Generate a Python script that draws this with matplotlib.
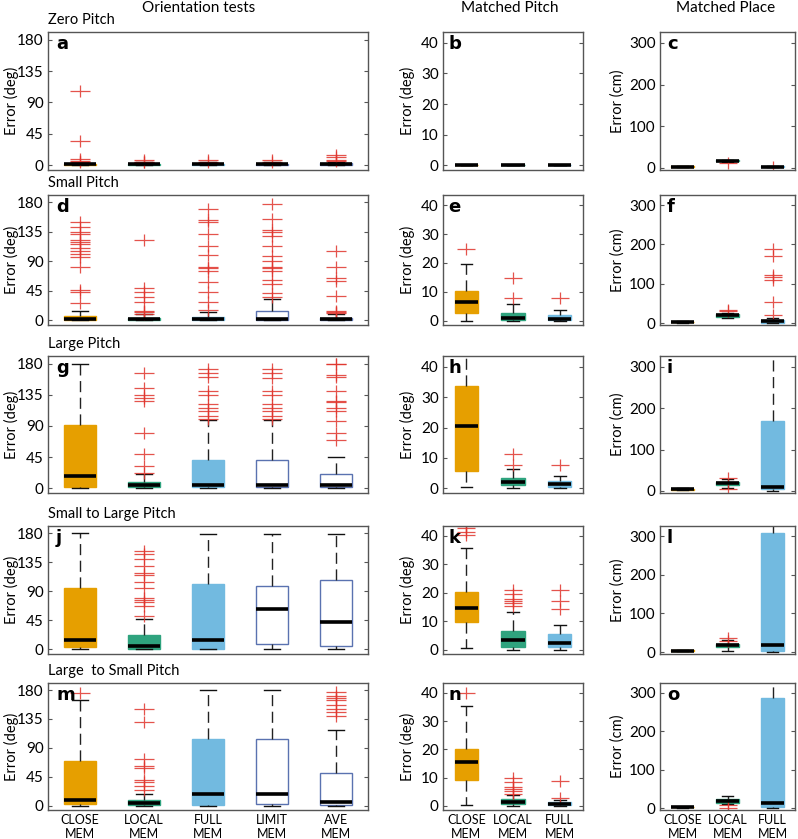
import matplotlib
matplotlib.use('Agg')
import matplotlib.pyplot as plt
from matplotlib.path import Path

plt.rcParams['font.family'] = ['Lato', 'DejaVu Sans']

# ---------------- data ----------------
ORIENT_CATS = ['CLOSE\nMEM', 'LOCAL\nMEM', 'FULL\nMEM', 'LIMIT\nMEM', 'AVE\nMEM']
MATCH_CATS = ['CLOSE\nMEM', 'LOCAL\nMEM', 'FULL\nMEM']
ROW_TITLES = ['Zero Pitch', 'Small Pitch', 'Large Pitch', 'Small to Large Pitch', 'Large  to Small Pitch']
COL_TITLES = ['Orientation tests', 'Matched Pitch', 'Matched Place']

DEG_TICKS = [0, 45, 90, 135, 180]
PITCH_TICKS = [0, 10, 20, 30, 40]
PLACE_TICKS = [0, 100, 200, 300]

# Panel a - Zero Pitch, orientation
A_MED = [1, 1, 1, 1, 2]
A_Q1 = [0, 0, 0, 0, 0.5]
A_Q3 = [2, 2, 2, 2, 3]
A_LO = [0, 0, 0, 0, 0]
A_HI = [4, 4, 4, 4, 5]
A_OUT = [[107, 35, 9, 6, 4.5], [8, 5, 4], [7, 5], [7, 5], [15, 11, 7, 5.5]]

# Panel d - Small Pitch, orientation
D_MED = [2, 1.5, 2, 2, 1.5]
D_Q1 = [0, 0, 0, 0.5, 0]
D_Q3 = [6, 4, 5, 15, 4]
D_LO = [0, 0, 0, 0, 0]
D_HI = [14, 9, 13, 32, 9]
D_OUT = [[150, 142, 135, 131, 123, 119, 116, 111, 105, 101, 96, 82, 46, 44, 27],
         [123, 50, 44, 36, 28, 15, 13, 10],
         [170, 153, 150, 131, 113, 99, 82, 80, 75, 59, 44, 28, 16],
         [178, 154, 137, 135, 129, 113, 98, 91, 82, 80, 75, 62, 55, 41, 35],
         [105, 81, 64, 60, 37, 15, 13, 11]]

# Panel g - Large Pitch, orientation
G_MED = [17, 4, 5, 5, 5]
G_Q1 = [1, 1, 1, 1, 1]
G_Q3 = [91, 8.5, 40, 40, 21]
G_LO = [0, 0, 0, 0, 0]
G_HI = [180, 20, 98, 98, 45]
G_OUT = [[],
         [166, 145, 135, 130, 126, 80, 50, 32, 22],
         [172, 166, 160, 140, 135, 121, 116, 111, 104, 100],
         [172, 166, 159, 140, 134, 121, 116, 111, 104, 100],
         [180, 179, 164, 160, 140, 126, 124, 116, 111, 97, 80, 70]]

# Panel j - Small to Large Pitch, orientation
J_MED = [15, 5, 14, 62, 42]
J_Q1 = [4, 1, 1, 9, 5]
J_Q3 = [95, 22, 102, 98, 108]
J_LO = [0, 0, 0, 0, 0]
J_HI = [180, 47, 178, 178, 179]
J_OUT = [[], [152, 147, 140, 129, 118, 115, 105, 95, 80, 76, 73, 68, 52], [], [], []]

# Panel m - Large to Small Pitch, orientation
M_MED = [8, 4, 18, 18, 5]
M_Q1 = [2, 1, 1, 2, 1.5]
M_Q3 = [69, 8, 103, 103, 51]
M_LO = [0, 0, 0, 0, 0]
M_HI = [164, 18, 180, 180, 117]
M_OUT = [[176], [150, 130, 72, 62, 58, 40, 36, 31, 24], [], [],
         [177, 170, 167, 164, 156, 151, 146, 140]]

# Panel b - Zero Pitch, matched pitch
B_MED = [0, 0, 0]
B_Q1 = [0, 0, 0]
B_Q3 = [0, 0, 0]
B_LO = [0, 0, 0]
B_HI = [0, 0, 0]
B_OUT = [[], [], []]

# Panel e - Small Pitch, matched pitch
E_MED = [6.5, 0.9, 0.5]
E_Q1 = [2.7, 0.2, 0.1]
E_Q3 = [10.3, 2.8, 1.9]
E_LO = [0, 0, 0]
E_HI = [19.6, 5.8, 3.8]
E_OUT = [[24.8], [14.6, 7.9], [7.9]]

# Panel h - Large Pitch, matched pitch
H_MED = [20.6, 2.1, 1.4]
H_Q1 = [5.8, 1, 0.6]
H_Q3 = [33.7, 3.3, 2.4]
H_LO = [0.6, 0, 0]
H_HI = [48, 6.3, 4.2]
H_OUT = [[], [11.4, 7.7], [7.7]]

# Panel k - Small to Large Pitch, matched pitch
K_MED = [14.6, 3.3, 2.2]
K_Q1 = [9.8, 1.1, 0.8]
K_Q3 = [20.3, 6.6, 5.4]
K_LO = [0.5, 0, 0]
K_HI = [35.6, 13.4, 8.6]
K_OUT = [[43.5, 42.8, 41.4, 40.5], [20.9, 19.5, 18, 17.2, 16.3, 15.2], [20.9, 17.1, 14.3]]

# Panel n - Large to Small Pitch, matched pitch
N_MED = [15.5, 1.4, 0.8]
N_Q1 = [9.1, 0.6, 0.2]
N_Q3 = [20.2, 2.3, 1.5]
N_LO = [0.3, 0, 0]
N_HI = [35.3, 3.8, 2]
N_OUT = [[39.8], [10, 8.3, 6.8, 6, 5.2, 4.3], [8.9, 2.6]]

# Panel c - Zero Pitch, matched place
C_MED = [3, 17, 3]
C_Q1 = [2, 16, 2]
C_Q3 = [4, 18, 4]
C_LO = [1, 15, 1]
C_HI = [5, 19, 5]
C_OUT = [[], [12], [2]]

# Panel f - Small Pitch, matched place
F_MED = [2.6, 20, 4.3]
F_Q1 = [2, 16, 1]
F_Q3 = [3, 22, 8.6]
F_LO = [1, 12, 0]
F_HI = [4, 26, 12]
F_OUT = [[], [34, 30], [188, 171, 122, 117, 109, 53, 20]]

# Panel i - Large Pitch, matched place
I_MED = [4, 18.4, 9.6]
I_Q1 = [3, 14, 4]
I_Q3 = [5, 22, 168]
I_LO = [2, 7, 0]
I_HI = [6, 28, 400]
I_OUT = [[], [32, 4], []]

# Panel l - Small to Large Pitch, matched place
L_MED = [3.5, 17.3, 19]
L_Q1 = [2.5, 12, 3.5]
L_Q3 = [4.5, 21.6, 308]
L_LO = [2, 3.5, 0]
L_HI = [5, 32, 450]
L_OUT = [[], [36, 28], []]

# Panel o - Large to Small Pitch, matched place
O_MED = [2.6, 19, 13]
O_Q1 = [2, 13, 4]
O_Q3 = [3.5, 23, 287]
O_LO = [1.5, 10, 0]
O_HI = [4, 32, 450]
O_OUT = [[], [7, 0], []]

# ---------------- styling ----------------
ORANGE = '#E69F00'
GREEN = '#2FA37E'
BLUE = '#72BAE0'
WHITE_EDGE = '#5A72B0'
RED = '#E0352D'
SPINE = '#555555'

FILLS5 = [ORANGE, GREEN, BLUE, 'white', 'white']
EDGES5 = [ORANGE, GREEN, BLUE, WHITE_EDGE, WHITE_EDGE]
FILLS3 = [ORANGE, GREEN, BLUE]
EDGES3 = [ORANGE, GREEN, BLUE]

# wide "+" marker (horizontal stroke longer than vertical)
PLUS = Path([(-1, 0), (1, 0), (0, -0.65), (0, 0.65)],
            [Path.MOVETO, Path.LINETO, Path.MOVETO, Path.LINETO])

W, H = 798, 839
fig = plt.figure(figsize=(W / 100, H / 100), dpi=100)

COLS = [(48, 368), (443, 583), (660, 795)]
ROWS = [(32, 170), (195, 325), (356, 493), (526, 654), (683, 810)]


def make_ax(col, row):
    x0, x1 = COLS[col]
    y0, y1 = ROWS[row]
    return fig.add_axes([x0 / W, 1 - y1 / H, (x1 - x0) / W, (y1 - y0) / H])


def draw(ax, med, q1, q3, lo, hi, out, fills, edges, msize):
    stats = [dict(med=m, q1=a, q3=b, whislo=l, whishi=h, fliers=f)
             for m, a, b, l, h, f in zip(med, q1, q3, lo, hi, out)]
    n = len(stats)
    art = ax.bxp(stats, positions=list(range(1, n + 1)), widths=0.5,
                 capwidths=0.25, patch_artist=True, showfliers=True,
                 whiskerprops=dict(color='#222222', linestyle=(0, (8, 4)), lw=1.0),
                 capprops=dict(color='#111111', lw=1.0),
                 medianprops=dict(color='black', lw=2.6, solid_capstyle='butt'),
                 flierprops=dict(marker=PLUS, markeredgecolor=RED, markerfacecolor='none',
                                 markersize=msize, markeredgewidth=0.9,
                                 linestyle='none', alpha=0.85),
                 boxprops=dict(lw=1.0))
    for patch, fc, ec in zip(art['boxes'], fills, edges):
        patch.set_facecolor(fc)
        patch.set_edgecolor(ec)
    for mline in art['medians']:
        mline.set_zorder(4)
    ax.set_xlim(0.5, n + 0.5)


def style(ax, yticks, ylim, ylabel, labx, letter, letx, n):
    ax.set_ylim(*ylim)
    ax.set_yticks(yticks)
    ax.tick_params(axis='y', direction='in', right=True, length=3, width=0.8,
                   labelsize=11, pad=3, color=SPINE)
    ax.set_xticks(list(range(1, n + 1)))
    ax.tick_params(axis='x', length=0, pad=3, labelsize=9)
    for s in ax.spines.values():
        s.set_color(SPINE)
        s.set_linewidth(1.0)
    ax.set_ylabel(ylabel, fontsize=10.5)
    ax.yaxis.set_label_coords(labx, 0.5)
    ax.text(letx, 0.975, letter, transform=ax.transAxes, fontsize=13,
            fontweight='bold', va='top', ha='left', family=['DejaVu Sans'])


ORIENT = [
    (A_MED, A_Q1, A_Q3, A_LO, A_HI, A_OUT),
    (D_MED, D_Q1, D_Q3, D_LO, D_HI, D_OUT),
    (G_MED, G_Q1, G_Q3, G_LO, G_HI, G_OUT),
    (J_MED, J_Q1, J_Q3, J_LO, J_HI, J_OUT),
    (M_MED, M_Q1, M_Q3, M_LO, M_HI, M_OUT),
]
PITCH = [
    (B_MED, B_Q1, B_Q3, B_LO, B_HI, B_OUT),
    (E_MED, E_Q1, E_Q3, E_LO, E_HI, E_OUT),
    (H_MED, H_Q1, H_Q3, H_LO, H_HI, H_OUT),
    (K_MED, K_Q1, K_Q3, K_LO, K_HI, K_OUT),
    (N_MED, N_Q1, N_Q3, N_LO, N_HI, N_OUT),
]
PLACE = [
    (C_MED, C_Q1, C_Q3, C_LO, C_HI, C_OUT),
    (F_MED, F_Q1, F_Q3, F_LO, F_HI, F_OUT),
    (I_MED, I_Q1, I_Q3, I_LO, I_HI, I_OUT),
    (L_MED, L_Q1, L_Q3, L_LO, L_HI, L_OUT),
    (O_MED, O_Q1, O_Q3, O_LO, O_HI, O_OUT),
]
LETTERS = [['a', 'b', 'c'], ['d', 'e', 'f'], ['g', 'h', 'i'], ['j', 'k', 'l'], ['m', 'n', 'o']]

for r in range(5):
    last = (r == 4)
    hpx = ROWS[r][1] - ROWS[r][0]
    # orientation
    ax = make_ax(0, r)
    draw(ax, *ORIENT[r], FILLS5, EDGES5, 14)
    style(ax, DEG_TICKS, (-7, 191), 'Error (deg)', -0.09, LETTERS[r][0], 0.025, 5)
    ax.set_xticklabels(ORIENT_CATS if last else [''] * 5, linespacing=1.2)
    ax.text(0.0, 1.0 + 5 / hpx, ROW_TITLES[r], transform=ax.transAxes, fontsize=10.5,
            ha='left', va='bottom')
    # matched pitch
    ax = make_ax(1, r)
    draw(ax, *PITCH[r], FILLS3, EDGES3, 13)
    style(ax, PITCH_TICKS, (-1.5, 43.5), 'Error (deg)', -0.2, LETTERS[r][1], 0.04, 3)
    ax.set_xticklabels(MATCH_CATS if last else [''] * 3, linespacing=1.2)
    # matched place
    ax = make_ax(2, r)
    draw(ax, *PLACE[r], FILLS3, EDGES3, 13)
    style(ax, PLACE_TICKS, (-5, 326), 'Error (cm)', -0.265, LETTERS[r][2], 0.05, 3)
    ax.set_xticklabels(MATCH_CATS if last else [''] * 3, linespacing=1.2)

fig.text(199 / W, 1 - 8 / H, COL_TITLES[0], ha='center', va='center', fontsize=11)
fig.text(510 / W, 1 - 8 / H, COL_TITLES[1], ha='center', va='center', fontsize=11)
fig.text(726 / W, 1 - 8 / H, COL_TITLES[2], ha='center', va='center', fontsize=11)

fig.savefig('out.png', dpi=100)
